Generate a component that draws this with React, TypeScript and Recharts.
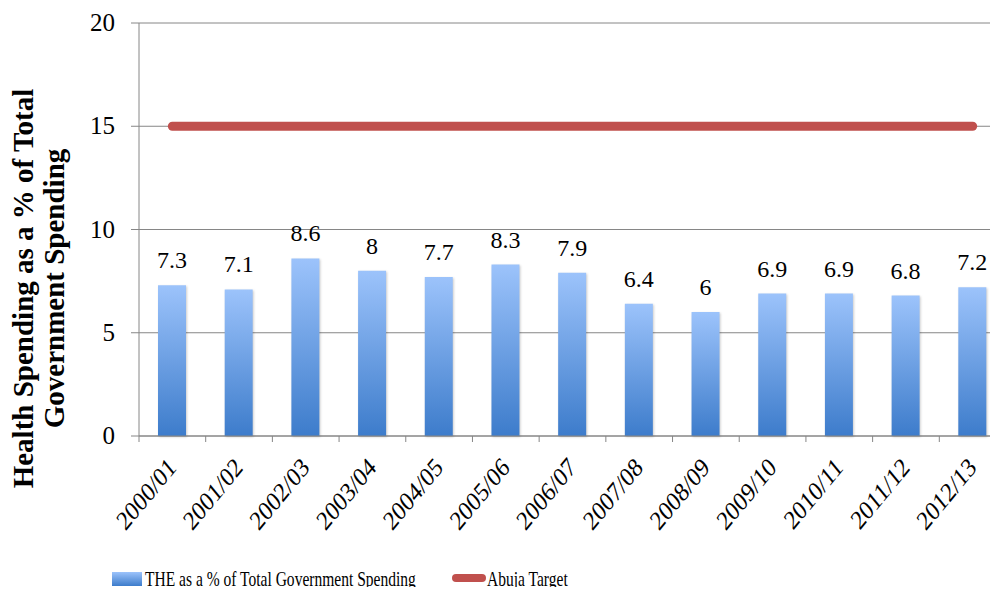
import { ComposedChart, Bar, Line, XAxis, YAxis, CartesianGrid, LabelList } from 'recharts';

const years = [
  '2000/01', '2001/02', '2002/03', '2003/04', '2004/05', '2005/06', '2006/07',
  '2007/08', '2008/09', '2009/10', '2010/11', '2011/12', '2012/13',
];
const theShare = [7.3, 7.1, 8.6, 8, 7.7, 8.3, 7.9, 6.4, 6, 6.9, 6.9, 6.8, 7.2];
const abujaTarget = [15, 15, 15, 15, 15, 15, 15, 15, 15, 15, 15, 15, 15];
const yTicks = [0, 5, 10, 15, 20];

const data = years.map((year, i) => ({ year, the: theShare[i], target: abujaTarget[i] }));

const AXIS = '#868686';
const FONT = '"Liberation Serif", "Times New Roman", serif';
const CHART_W = 1010;
const Y_AXIS_W = 139;
const RIGHT = 4;
const BAND = (CHART_W - Y_AXIS_W - RIGHT) / years.length;

function YearTick({ x, y, payload, index }: any) {
  const half = BAND / 2;
  return (
    <g>
      <line x1={x - half} y1={y} x2={x - half} y2={y + 6} stroke={AXIS} />
      {index === years.length - 1 && <line x1={x + half} y1={y} x2={x + half} y2={y + 6} stroke={AXIS} />}
      <text
        transform={`translate(${x + 5},${y + 33}) scale(0.83,1) rotate(-45)`}
        textAnchor="end"
        style={{ fontFamily: FONT, fontSize: 27 }}
        fill="#000"
      >
        {payload.value}
      </text>
    </g>
  );
}

function ValueTick({ x, y, payload }: any) {
  return (
    <text x={x} y={y} dy={8} textAnchor="end" fill="#000" style={{ fontFamily: FONT, fontSize: 25 }}>
      {payload.value}
    </text>
  );
}

function BarValue({ x, y, width, value }: any) {
  return (
    <text x={x + width / 2} y={y - 17} textAnchor="middle" fill="#000" style={{ fontFamily: FONT, fontSize: 24 }}>
      {value}
    </text>
  );
}

function AxisTitle() {
  return (
    <g style={{ fontFamily: FONT, fontWeight: 'bold', fontSize: 29 }} fill="#000">
      <text transform="translate(33,288.5) rotate(-90)" textAnchor="middle">Health Spending as a % of Total</text>
      <text transform="translate(64,288.5) rotate(-90)" textAnchor="middle">Government Spending</text>
    </g>
  );
}

function LegendBox() {
  return (
    <svg width={998} height={55} style={{ position: 'absolute', left: 0, top: 538 }}>
      <defs>
        <linearGradient id="legendGrad" x1="0" y1="0" x2="0" y2="1">
          <stop offset="0%" stopColor="#9CC3FB" />
          <stop offset="100%" stopColor="#3D7CCB" />
        </linearGradient>
      </defs>
      <rect x={112} y={34} width={30} height={14} fill="url(#legendGrad)" />
      <text transform="translate(145,48) scale(0.74,1)" fill="#000" style={{ fontFamily: FONT, fontSize: 21 }}>
        THE as a % of Total Government Spending
      </text>
      <line x1={456} y1={40} x2={482} y2={40} stroke="#C0504D" strokeWidth={8} strokeLinecap="round" />
      <text transform="translate(487,48) scale(0.74,1)" fill="#000" style={{ fontFamily: FONT, fontSize: 21 }}>
        Abuja Target
      </text>
    </svg>
  );
}

export default function App() {
  return (
    <div style={{ position: 'relative', margin: -8, width: 998, height: 595, overflow: 'hidden', background: '#fff', fontFamily: FONT }}>
      <ComposedChart width={CHART_W} height={595} data={data} margin={{ top: 23, right: RIGHT, bottom: 0, left: 0 }}>
        <defs>
          <linearGradient id="barGrad" x1="0" y1="0" x2="0" y2="1">
            <stop offset="0%" stopColor="#9CC3FB" />
            <stop offset="100%" stopColor="#3D7CCB" />
          </linearGradient>
        </defs>
        <CartesianGrid vertical={false} stroke={AXIS} strokeWidth={1} />
        <XAxis
          dataKey="year"
          height={159}
          interval={0}
          tickLine={false}
          tickSize={0}
          tickMargin={0}
          stroke={AXIS}
          tick={<YearTick />}
        />
        <YAxis
          width={Y_AXIS_W}
          domain={[0, 20]}
          ticks={yTicks}
          tickSize={8}
          tickMargin={16}
          stroke={AXIS}
          tick={<ValueTick />}
          label={{ content: () => <AxisTitle /> }}
        />
        <Bar
          dataKey="the"
          barSize={28}
          fill="url(#barGrad)"
          isAnimationActive={false}
          style={{ filter: 'drop-shadow(1px 1px 1px rgba(0,0,0,0.2))' }}
        >
          <LabelList dataKey="the" content={<BarValue />} />
        </Bar>
        <Line
          dataKey="target"
          stroke="#C0504D"
          strokeWidth={9}
          strokeLinecap="round"
          dot={false}
          activeDot={false}
          isAnimationActive={false}
        />
      </ComposedChart>
      <LegendBox />
    </div>
  );
}
